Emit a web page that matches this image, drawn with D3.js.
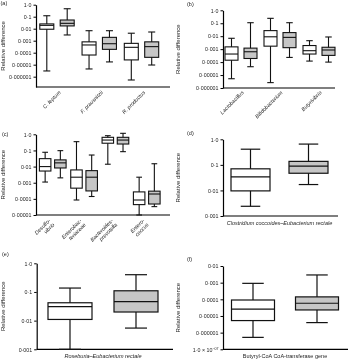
<!DOCTYPE html>
<html>
<head>
<meta charset="utf-8">
<script src="https://cdn.jsdelivr.net/npm/d3@7"></script>
<style>
  body { margin: 0; background: #fff; }
  svg { display: block; font-family: "Liberation Sans", Arial, sans-serif; filter: grayscale(100%); }
</style>
</head>
<body>
<svg id="chart" width="350" height="362"></svg>
<script>
// box stats: [min, q1, median, q3, max]
const aGroups = ["C. leptum", "F. prausnitzii", "R. productus"];
const aWhite = [[3e-6, 0.009, 0.019, 0.025, 0.12], [4.4e-6, 6.4e-5, 0.00044, 0.0008, 0.0068], [5.3e-7, 2.5e-5, 0.00028, 0.0006, 0.0042]];
const aGrey = [[0.003, 0.017, 0.028, 0.053, 0.46], [1.7e-5, 0.00019, 0.00056, 0.0019, 0.0068], [9.4e-6, 4.1e-5, 0.00032, 0.0008, 0.0053]];

const bGroups = ["Lactobacillus", "Bifidobacterium", "Butyrivibrio"];
const bWhite = [[5.2e-6, 0.00014, 0.00042, 0.0015, 0.0069], [2.6e-6, 0.0017, 0.009, 0.027, 0.24], [0.00012, 0.00042, 0.00076, 0.0019, 0.0045]];
const bGrey = [[4.4e-5, 0.00019, 0.00063, 0.0012, 0.11], [0.00023, 0.0013, 0.0081, 0.019, 0.11], [0.0001, 0.00033, 0.00086, 0.0014, 0.0087]];

const cGroups = [["Desulfo-", "vibrio"], ["Enterobac-", "teriaceae"], ["Bacteroides-", "prevotella"], ["Entero-", "coccus"]];
const cWhite = [[0.0011, 0.0053, 0.01, 0.031, 0.077], [8.5e-5, 0.00046, 0.0022, 0.0062, 0.35], [0.014, 0.28, 0.44, 0.65, 0.82], [1e-5, 4.4e-5, 8.5e-5, 0.00027, 0.0022]];
const cGrey = [[0.002, 0.0082, 0.017, 0.026, 0.097], [0.00014, 0.00031, 0.0022, 0.0056, 0.052], [0.084, 0.25, 0.44, 0.65, 1.15], [3.3e-5, 4.8e-5, 0.0002, 0.0003, 0.015]];

const dGroups = ["Clostridium coccoides–Eubacterium rectale"];
const dWhite = [[0.0024, 0.0096, 0.034, 0.07, 0.41]];
const dGrey = [[0.017, 0.047, 0.09, 0.137, 0.65]];

const eGroups = ["Roseburia–Eubacterium rectale"];
const eWhite = [[0.001, 0.011, 0.031, 0.042, 0.137]];
const eGrey = [[0.0055, 0.02, 0.046, 0.11, 0.4]];

const fGroups = ["Butyryl-CoA CoA-transferase gene"];
const fWhite = [[5.2e-7, 5.3e-6, 2.6e-5, 9.1e-5, 0.00091]];
const fGrey = [[4e-6, 2.3e-5, 5.8e-5, 0.00014, 0.0029]];

const ticks6 = [1, 0.1, 0.01, 0.001, 1e-4, 1e-5, 1e-6];
const labels6 = ["1·0", "0·1", "0·01", "0·001", "0·0001", "0·00001", "0·000001"];
const ticks5 = [1, 0.1, 0.01, 0.001, 1e-4, 1e-5];
const labels5 = ["1·0", "0·1", "0·01", "0·001", "0·0001", "0·00001"];
const ticks3 = [1, 0.1, 0.01, 0.001];
const labels3 = ["1·0", "0·1", "0·01", "0·001"];
const ticksF = [0.01, 0.001, 1e-4, 1e-5, 1e-6, 1e-7];
const labelsF = ["0·01", "0·001", "0·0001", "0·00001", "0·000001", "1·0 × 10"];

const svg = d3.select("#chart");

function panel(p) {
  const g = svg.append("g");
  const y = d3.scaleLog().domain(p.domain).range(p.yRange);
  const x = d3.scalePoint().domain(d3.range(p.groups.length)).range(p.xc);

  // y axis
  const ax = g.append("g")
    .attr("transform", `translate(${p.x0},0)`)
    .call(d3.axisLeft(y).tickValues(p.ticks).tickSize(2.5).tickSizeOuter(0)
      .tickFormat((d, i) => p.labels[i]));
  ax.select(".domain").attr("stroke-width", 1.2);
  ax.selectAll(".tick line").attr("stroke-width", 1);
  ax.selectAll(".tick text").attr("font-size", 5.3).attr("fill", "#222").attr("x", -4.5)
    .attr("font-family", "Liberation Sans, Arial, sans-serif");
  if (p.supLast) {
    ax.selectAll(".tick text").filter((d, i) => i === p.ticks.length - 1)
      .append("tspan").attr("dy", -2).attr("font-size", 3.6).text("−07");
  }

  // x axis line
  g.append("line")
    .attr("x1", p.x0).attr("x2", p.x1)
    .attr("y1", y(p.domain[0])).attr("y2", y(p.domain[0]))
    .attr("stroke", "#000").attr("stroke-width", 1.2);

  // y title
  const yMid = (p.yRange[0] + p.yRange[1]) / 2;
  g.append("text")
    .attr("transform", `translate(${p.titleX},${yMid}) rotate(-90)`)
    .attr("text-anchor", "middle").attr("font-size", 6).attr("fill", "#222")
    .text("Relative difference");

  // panel letter
  g.append("text").attr("x", p.letter[0]).attr("y", p.letter[1])
    .attr("font-size", 5.5).attr("fill", "#222").text(p.name);

  // boxes
  const sets = [[p.white, -p.off, "#fff"], [p.grey, p.off, "#c6c6c6"]];
  sets.forEach(([data, off, fill]) => {
    data.forEach((s, i) => {
      const cx = x(i) + off;
      const w = p.bw, cap = p.bw * 0.5;
      const bg = g.append("g").attr("stroke", "#111").attr("stroke-width", p.sw);
      bg.append("line").attr("x1", cx).attr("x2", cx).attr("y1", y(s[0])).attr("y2", y(s[4]));
      bg.append("line").attr("x1", cx - cap / 2).attr("x2", cx + cap / 2).attr("y1", y(s[0])).attr("y2", y(s[0]));
      bg.append("line").attr("x1", cx - cap / 2).attr("x2", cx + cap / 2).attr("y1", y(s[4])).attr("y2", y(s[4]));
      bg.append("rect").attr("x", cx - w / 2).attr("width", w)
        .attr("y", y(s[3])).attr("height", y(s[1]) - y(s[3])).attr("fill", fill);
      bg.append("line").attr("x1", cx - w / 2).attr("x2", cx + w / 2).attr("y1", y(s[2])).attr("y2", y(s[2]));
    });
  });

  // category labels
  const base = y(p.domain[0]);
  if (p.rotated) {
    p.groups.forEach((lab, i) => {
      const t = g.append("text")
        .attr("transform", `translate(${x(i) + p.labDx},${base + p.labDy}) rotate(-45)`)
        .attr("text-anchor", "end").attr("font-size", 5.3).attr("font-style", "italic")
        .attr("fill", "#222");
      const lines = Array.isArray(lab) ? lab : [lab];
      lines.forEach((l, k) => t.append("tspan").attr("x", 0).attr("dy", k ? "1.1em" : 0).text(l));
    });
  } else {
    g.append("text").attr("x", x(0)).attr("y", base + p.labDy)
      .attr("text-anchor", "middle").attr("font-size", 5.5)
      .attr("font-style", p.italic ? "italic" : "normal").attr("fill", "#222")
      .text(p.groups[0]);
  }
}

panel({ name: "(a)", letter: [0.5, 5], groups: aGroups, white: aWhite, grey: aGrey,
  domain: [Math.pow(10, -6.86), 1], yRange: [87, 4.7], ticks: ticks6, labels: labels6,
  x0: 36, x1: 170, xc: [57, 141.5], off: 10.2, bw: 14, sw: 1.1, titleX: 5,
  rotated: true, labDx: 4, labDy: 6 });

panel({ name: "(b)", letter: [187, 6], groups: bGroups, white: bWhite, grey: bGrey,
  domain: [1e-6, 1], yRange: [88, 10.3], ticks: ticks6, labels: labels6,
  x0: 223, x1: 335, xc: [241, 319], off: 9.5, bw: 13, sw: 1.1, titleX: 180,
  rotated: true, labDx: 3, labDy: 5 });

panel({ name: "(c)", letter: [2, 136], groups: cGroups, white: cWhite, grey: cGrey,
  domain: [1e-5, 1], yRange: [215, 134.3], ticks: ticks5, labels: labels5,
  x0: 36, x1: 170, xc: [52.75, 146.75], off: 7.6, bw: 11.5, sw: 1.1, titleX: 5,
  rotated: true, labDx: -2, labDy: 6 });

panel({ name: "(d)", letter: [187, 135], groups: dGroups, white: dWhite, grey: dGrey,
  domain: [1e-3, 1], yRange: [216, 139.3], ticks: ticks3, labels: labels3,
  x0: 223, x1: 338, xc: [279.5, 279.5], off: 29, bw: 39, sw: 1.2, titleX: 180,
  rotated: false, italic: true, labDy: 9 });

panel({ name: "(e)", letter: [2, 256], groups: eGroups, white: eWhite, grey: eGrey,
  domain: [1e-3, 1], yRange: [349.3, 263.3], ticks: ticks3, labels: labels3,
  x0: 36.7, x1: 173, xc: [103, 103], off: 33, bw: 44, sw: 1.2, titleX: 5,
  rotated: false, italic: true, labDy: 9 });

panel({ name: "(f)", letter: [187, 261], groups: fGroups, white: fWhite, grey: fGrey,
  domain: [1e-7, 1e-2], yRange: [349.3, 266], ticks: ticksF, labels: labelsF, supLast: true,
  x0: 223, x1: 348, xc: [285, 285], off: 32, bw: 43, sw: 1.2, titleX: 180,
  rotated: false, italic: false, labDy: 9 });
</script>
</body>
</html>
